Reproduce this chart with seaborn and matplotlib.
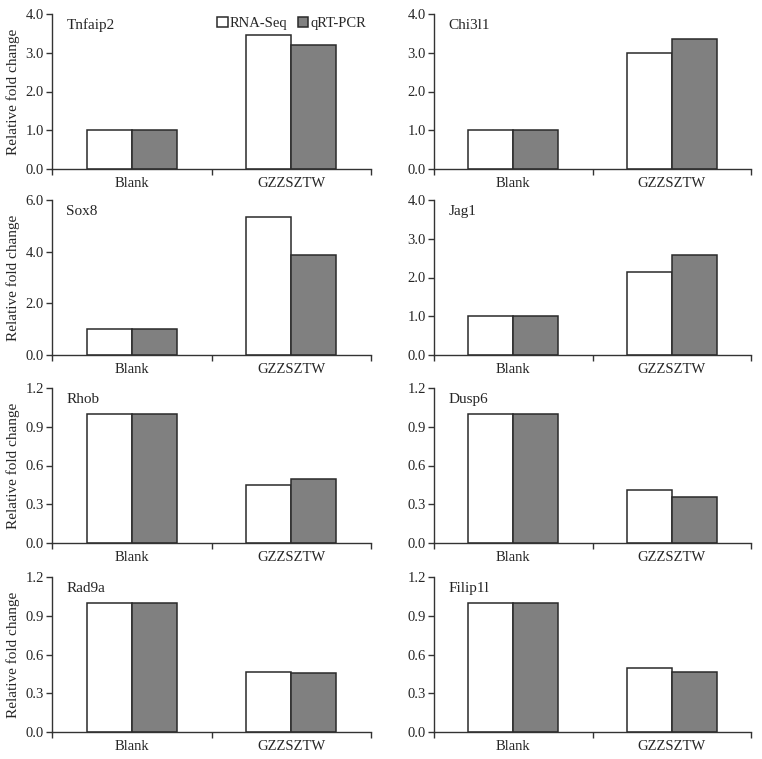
import pandas as pd
import numpy as np
import matplotlib
matplotlib.use("Agg")
from matplotlib import pyplot as plt
from matplotlib.ticker import FormatStrFormatter
import seaborn as sns

sns.set_theme(style="white")
plt.rcParams['font.family'] = ['Liberation Serif', 'DejaVu Serif']

groups = ["Blank", "GZZSZTW"]
methods = ["RNA-Seq", "qRT-PCR"]
genes = ["Tnfaip2", "Chi3l1", "Sox8", "Jag1", "Rhob", "Dusp6", "Rad9a", "Filip1l"]

# values per gene: [Blank, GZZSZTW]
rna_seq = {
    "Tnfaip2": [1.0, 3.47],
    "Chi3l1": [1.0, 3.0],
    "Sox8": [1.0, 5.33],
    "Jag1": [1.0, 2.13],
    "Rhob": [1.0, 0.45],
    "Dusp6": [1.0, 0.414],
    "Rad9a": [1.0, 0.468],
    "Filip1l": [1.0, 0.495],
}
qrt_pcr = {
    "Tnfaip2": [1.0, 3.2],
    "Chi3l1": [1.0, 3.35],
    "Sox8": [1.0, 3.86],
    "Jag1": [1.0, 2.58],
    "Rhob": [1.0, 0.495],
    "Dusp6": [1.0, 0.357],
    "Rad9a": [1.0, 0.46],
    "Filip1l": [1.0, 0.462],
}
y_max = {"Tnfaip2": 4.0, "Chi3l1": 4.0, "Sox8": 6.0, "Jag1": 4.0,
         "Rhob": 1.2, "Dusp6": 1.2, "Rad9a": 1.2, "Filip1l": 1.2}
y_step = {"Tnfaip2": 1.0, "Chi3l1": 1.0, "Sox8": 2.0, "Jag1": 1.0,
          "Rhob": 0.3, "Dusp6": 0.3, "Rad9a": 0.3, "Filip1l": 0.3}

W, H = 762, 759
fig = plt.figure(figsize=(W / 100, H / 100), dpi=100)

col_x = [(52, 371), (434, 751)]
row_y = [(14, 169), (200, 355), (388, 543), (577, 732)]
palette = {"RNA-Seq": "white", "qRT-PCR": "#808080"}

for i, gene in enumerate(genes):
    r, c = divmod(i, 2)
    x0, x1 = col_x[c]
    y0, y1 = row_y[r]
    ax = fig.add_axes([x0 / W, 1 - y1 / H, (x1 - x0) / W, (y1 - y0) / H])

    df = pd.DataFrame({
        "group": groups * 2,
        "method": [methods[0]] * 2 + [methods[1]] * 2,
        "value": rna_seq[gene] + qrt_pcr[gene],
    })
    sns.barplot(data=df, x="group", y="value", hue="method", order=groups,
                hue_order=methods, palette=palette, edgecolor="#2a2a2a",
                linewidth=1.1, width=0.565, ax=ax, legend=(i == 0))

    ax.set_xlim(-0.5, 1.5)
    ax.set_ylim(0, y_max[gene])
    ax.set_yticks(np.arange(0, y_max[gene] + 1e-9, y_step[gene]))
    ax.yaxis.set_major_formatter(FormatStrFormatter("%.1f"))
    ax.set_xticks([0, 1])
    ax.set_xticklabels(groups)
    ax.set_xticks([-0.5, 0.5, 1.5], minor=True)
    ax.tick_params(axis="x", which="major", length=0, pad=6, labelsize=10.5)
    ax.tick_params(axis="x", which="minor", length=4, width=1, direction="out",
                   color="#333333", bottom=True)
    ax.tick_params(axis="y", length=4, width=1, direction="out", color="#333333",
                   left=True, labelsize=10.5, pad=2)
    ax.set_xlabel("")
    if c == 0:
        ax.set_ylabel("Relative fold change", fontsize=11, labelpad=4)
    else:
        ax.set_ylabel("")
    sns.despine(ax=ax)
    for side in ["left", "bottom"]:
        ax.spines[side].set_color("#333333")
        ax.spines[side].set_linewidth(1)
    ax.text(0.045, 0.97, gene, transform=ax.transAxes, ha="left", va="top",
            fontsize=11)

    if i == 0:
        ax.legend(loc="upper right", bbox_to_anchor=(1.025, 1.065), ncol=2,
                  frameon=False, fontsize=10.5, handlelength=0.7,
                  handleheight=0.7, handletextpad=0.15, columnspacing=0.7,
                  title=None)

fig.savefig("out.png", dpi=100, facecolor="white")
